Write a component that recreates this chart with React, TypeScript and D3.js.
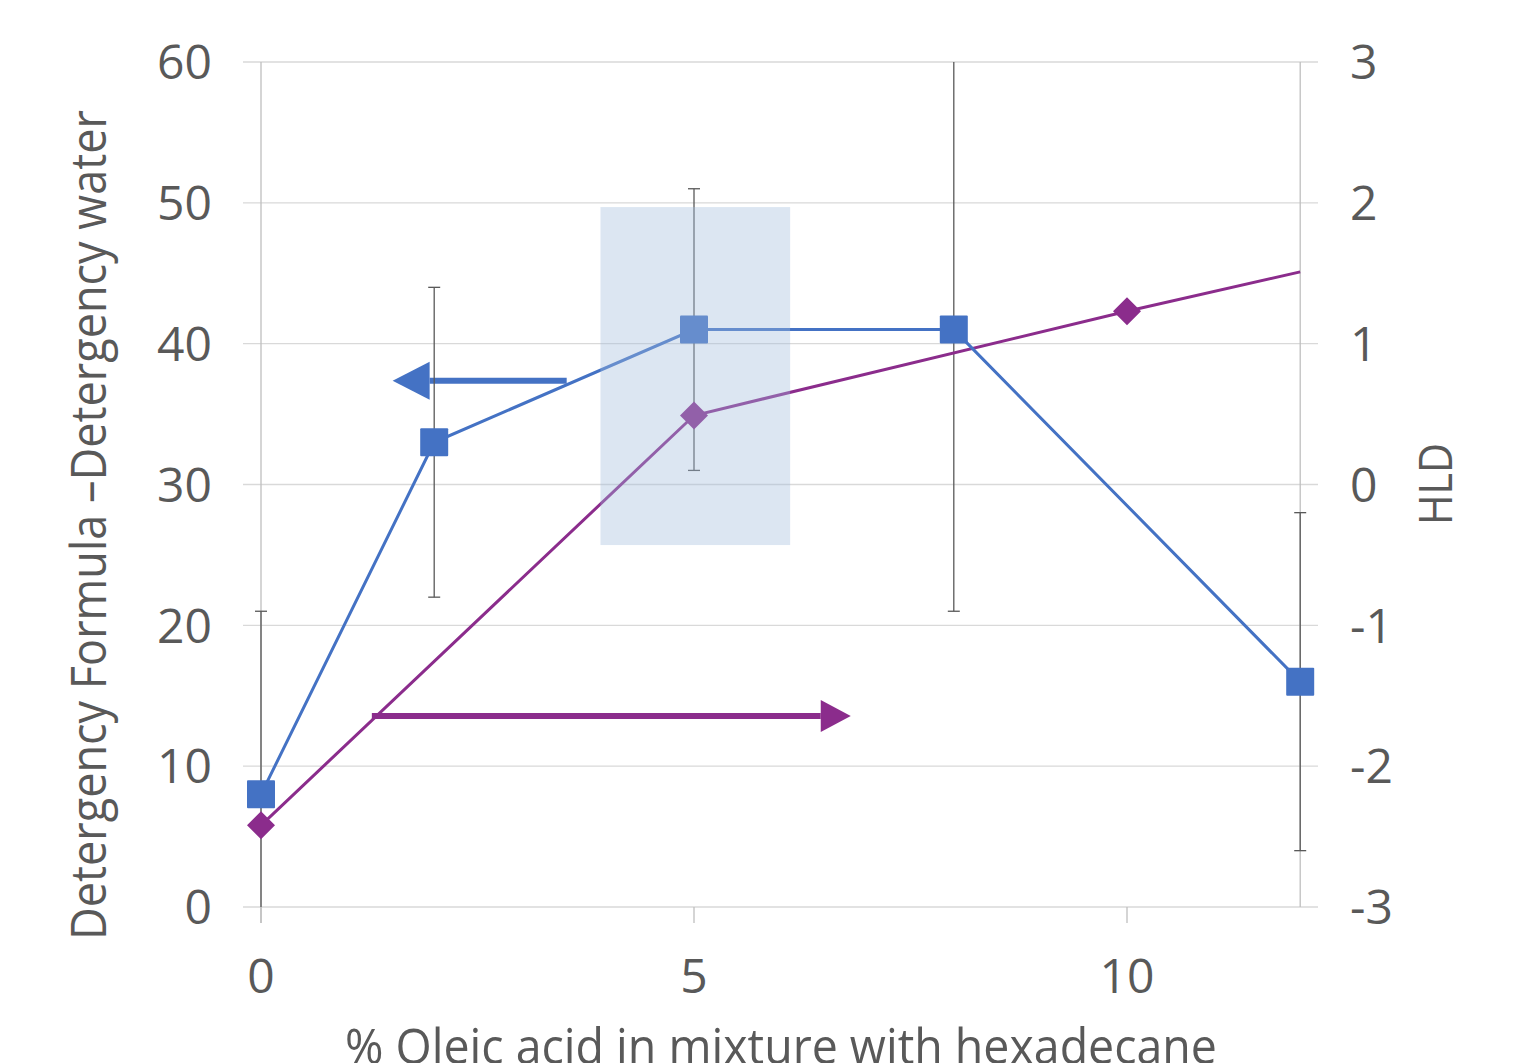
import * as d3 from "d3";

// % oleic acid in the oil mixture
const oleicPct = [0, 2, 5, 8, 12];
// Detergency formula - detergency water (left axis)
const detergency = [8, 33, 41, 41, 16];
const detergencyErr = [13, 11, 10, 20, 12];

// HLD (right axis)
const hldPct = [0, 5, 10, 12];
const hld = [-2.42, 0.49, 1.23, 1.51];
const hldMarker = [true, true, true, false];

const leftTicks = [0, 10, 20, 30, 40, 50, 60];
const rightTicks = [-3, -2, -1, 0, 1, 2, 3];
const xTicks = [0, 5, 10];

// optimum zone and annotation arrows, in data units
const zone = { x0: 3.92, x1: 6.11, y0: 25.7, y1: 49.7 };
const blueArrow = { from: 3.53, to: 1.52, y: 37.36 };
const purpleArrow = { from: 1.28, to: 6.81, y: 13.56 };

const BLUE = "#4472c4";
const PURPLE = "#8b2c8c";
const TEXT = "#595959";
const FONT = "'Open Sans', sans-serif";

const x = d3.scaleLinear().domain([0, 12]).range([261, 1300.2]);
const yL = d3.scaleLinear().domain([0, 60]).range([907, 62]);
const yR = d3.scaleLinear().domain([-3, 3]).range([907, 62]);

function Arrow({ x1, x2, y, color }: { x1: number; x2: number; y: number; color: string }) {
  const dir = Math.sign(x2 - x1);
  const headLen = dir < 0 ? 37 : 30;
  const half = dir < 0 ? 19 : 16;
  const base = x2 - dir * headLen;
  return (
    <g>
      <line x1={x1} x2={base} y1={y} y2={y} stroke={color} strokeWidth={6} />
      <path d={`M${x2},${y}L${base},${y - half}L${base},${y + half}Z`} fill={color} />
    </g>
  );
}

export default function App() {
  const blueLine = d3
    .line<number>()
    .x((_, i) => x(oleicPct[i]))
    .y((d) => yL(d))(detergency);
  const purpleLine = d3
    .line<number>()
    .x((_, i) => x(hldPct[i]))
    .y((d) => yR(d))(hld);

  const clampY = (v: number) => Math.max(62, Math.min(907, v));

  return (
    <svg width={1527} height={1063} style={{ position: "absolute", left: 0, top: 0 }} fontFamily={FONT}>
      <rect width={1527} height={1063} fill="#fff" />

      {/* grid */}
      {leftTicks.map((t) => (
        <line key={t} x1={243} x2={1318} y1={yL(t)} y2={yL(t)} stroke="#d9d9d9" strokeWidth={1.3} />
      ))}
      <line x1={x(0)} x2={x(0)} y1={62} y2={923} stroke="#bfbfbf" strokeWidth={1.3} />
      <line x1={x(12)} x2={x(12)} y1={62} y2={907} stroke="#bfbfbf" strokeWidth={1.3} />
      {xTicks.map((t) => (
        <line key={t} x1={x(t)} x2={x(t)} y1={907} y2={923} stroke="#bfbfbf" strokeWidth={1.3} />
      ))}

      {/* tick labels */}
      {leftTicks.map((t) => (
        <text key={t} x={212} y={yL(t)} dy="0.36em" textAnchor="end" fontSize={48} fill={TEXT}>
          {t}
        </text>
      ))}
      {rightTicks.map((t) => (
        <text key={t} x={1350} y={yR(t)} dy="0.36em" textAnchor="start" fontSize={48} fill={TEXT}>
          {t}
        </text>
      ))}
      {xTicks.map((t) => (
        <text key={t} x={x(t)} y={993} textAnchor="middle" fontSize={48} fill={TEXT}>
          {t}
        </text>
      ))}

      {/* axis titles */}
      <text
        transform="translate(106,525) rotate(-90)"
        textAnchor="middle"
        fontSize={50}
        fill={TEXT}
        textLength={830}
        lengthAdjust="spacingAndGlyphs"
      >
        Detergency Formula –Detergency  water
      </text>
      <text
        transform="translate(1452,484) rotate(-90)"
        textAnchor="middle"
        fontSize={46}
        fill={TEXT}
        textLength={82}
        lengthAdjust="spacingAndGlyphs"
      >
        HLD
      </text>
      <text
        x={781}
        y={1064}
        textAnchor="middle"
        fontSize={50}
        fill={TEXT}
        textLength={872}
        lengthAdjust="spacingAndGlyphs"
      >
        % Oleic acid in mixture with hexadecane
      </text>

      {/* annotation arrows */}
      <Arrow x1={x(blueArrow.from)} x2={x(blueArrow.to)} y={yL(blueArrow.y)} color={BLUE} />
      <Arrow x1={x(purpleArrow.from)} x2={x(purpleArrow.to)} y={yL(purpleArrow.y)} color={PURPLE} />

      {/* error bars */}
      {detergency.map((d, i) => {
        const cx = x(oleicPct[i]);
        const hi = yL(d + detergencyErr[i]);
        const lo = yL(d - detergencyErr[i]);
        return (
          <g key={i} stroke="#595959" strokeWidth={1.3}>
            <line x1={cx} x2={cx} y1={clampY(hi)} y2={clampY(lo)} />
            {hi >= 62 && <line x1={cx - 6} x2={cx + 6} y1={hi} y2={hi} />}
            {lo <= 907 && <line x1={cx - 6} x2={cx + 6} y1={lo} y2={lo} />}
          </g>
        );
      })}

      {/* series */}
      <path d={purpleLine ?? ""} fill="none" stroke={PURPLE} strokeWidth={3} />
      <path d={blueLine ?? ""} fill="none" stroke={BLUE} strokeWidth={3} />
      {hld.map((d, i) =>
        hldMarker[i] ? (
          <path
            key={i}
            transform={`translate(${x(hldPct[i])},${yR(d)})`}
            d="M0,-14L14,0L0,14L-14,0Z"
            fill={PURPLE}
          />
        ) : null
      )}
      {detergency.map((d, i) => (
        <rect key={i} x={x(oleicPct[i]) - 14} y={yL(d) - 14} width={28} height={28} rx={1} fill={BLUE} />
      ))}

      {/* optimum zone overlay */}
      <rect
        x={x(zone.x0)}
        y={yL(zone.y1)}
        width={x(zone.x1) - x(zone.x0)}
        height={yL(zone.y0) - yL(zone.y1)}
        fill="rgb(160,187,220)"
        fillOpacity={0.37}
      />
    </svg>
  );
}
